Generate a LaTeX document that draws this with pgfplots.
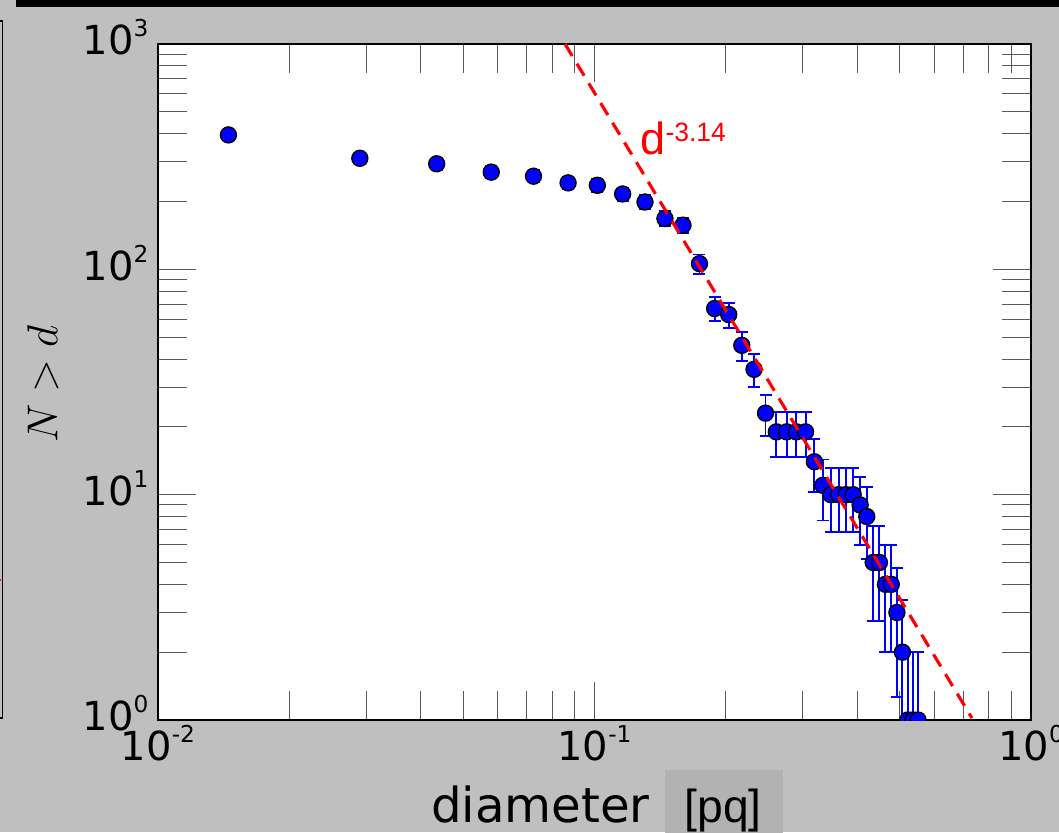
\documentclass[border=0pt]{standalone}
\usepackage{fontspec}
\setmainfont{DejaVu Sans}
\newfontfamily\libsans{Liberation Sans}
\usepackage{pgfplots}
\pgfplotsset{compat=1.18}
\usepackage{pgfplotstable}
\definecolor{bggray}{RGB}{191,191,191}
\definecolor{boxgray}{RGB}{178,178,178}
\newcommand\tl[1]{10\raisebox{7.1pt}{\fontsize{9.3}{9.3}\selectfont #1}}

\pgfplotstableread{
d N ep em
0.0145 395 19.87 19.87
0.0290 311 17.64 17.64
0.0435 294 17.15 17.15
0.0580 270 16.43 16.43
0.0725 259 16.09 16.09
0.0870 242 15.56 15.56
0.1015 236 15.36 15.36
0.1160 216 14.70 14.70
0.1305 199 14.11 14.11
0.1450 168 12.96 12.96
0.1595 157 12.53 12.53
0.1740 106 10.30 10.30
0.1885 67 8.19 8.19
0.2030 63 7.94 7.94
0.2175 46 6.78 6.78
0.2320 36 6.00 6.00
0.2465 23 4.80 4.80
0.2610 19 4.36 4.36
0.2755 19 4.36 4.36
0.2900 19 4.36 4.36
0.3045 19 4.36 4.36
0.3190 14 3.74 3.74
0.3335 11 3.32 3.32
0.3480 10 3.16 3.16
0.3625 10 3.16 3.16
0.3770 10 3.16 3.16
0.3915 10 3.16 3.16
0.4060 9 3.00 3.00
0.4205 8 2.83 2.83
0.4350 5 2.24 2.24
0.4495 5 2.24 2.24
0.4640 4 2.00 2.00
0.4785 4 2.00 2.00
0.4930 3 1.73 1.73
0.5075 2 1.41 1.41
0.5220 1 1.00 0.999
0.5365 1 1.00 0.999
0.5510 1 1.00 0.999
}\counts

\begin{document}
\begin{tikzpicture}
\fill[bggray] (-63.2pt,-44.8pt) rectangle (360.4pt,288pt);
\fill[black] (-56.8pt,285.2pt) rectangle (360.4pt,288pt);
\draw[black, line width=0.6pt] (-63.2pt,279.6pt) -- (-62.2pt,279.6pt) -- (-62.2pt,0.8pt) -- (-63.2pt,0.8pt);
\fill[red] (-63.2pt,55.6pt) rectangle (-62.6pt,56.6pt);
\fill[boxgray] (202.8pt,-20pt) rectangle (250pt,-50pt);
\begin{axis}[
  at={(0pt,0pt)}, anchor=south west,
  scale only axis, width=349.2pt, height=270.4pt,
  xmode=log, ymode=log, xmin=0.01, xmax=1, ymin=1, ymax=1000,
  axis background/.style={fill=white},
  axis line style={black, line width=0.6pt},
  tick align=inside,
  major tick length=15.2pt, minor tick length=11.6pt,
  tick style={black!65, line width=0.4pt},
  xtick={0.01,0.1,1}, xticklabels={\tl{-2},\tl{-1},\tl{0}},
  ytick={1,10,100,1000}, yticklabels={\tl{0},\tl{1},\tl{2},\tl{3}},
  ticklabel style={font=\fontsize{16}{16}\selectfont, inner sep=0pt},
  xticklabel style={yshift=-2pt},
  yticklabel style={xshift=-3.6pt, yshift=2.6pt},
  clip marker paths=true,
]
% error bars first (drawn under the markers)
\addplot[draw=none, mark=none,
  error bars/.cd, y dir=both, y explicit,
  error bar style={draw=blue, line width=0.75pt},
  error mark=-,
  error mark options={rotate=90, draw=blue, line width=0.75pt, mark size=2.4pt}]
  table[x=d, y=N, y error plus=ep, y error minus=em] {\counts};
% markers
\addplot[only marks, mark=*, mark size=3.2pt,
  mark options={fill=blue, draw=black, line width=0.55pt}]
  table[x=d, y=N] {\counts};
% fit line
\addplot[red, dash pattern=on 5.6pt off 3.6pt, line width=1.25pt]
  coordinates {(0.0856,1000) (0.7325,1.02)};
\end{axis}
\node[rotate=90, font=\fontsize{18.5}{18.5}\selectfont] at (-46pt,134.4pt) {$N>d$};
\node[anchor=base west, inner sep=0pt, font=\fontsize{19.3}{19.3}\selectfont] at (109pt,-40.8pt) {diameter};
\node[anchor=base west, inner sep=0pt, font=\libsans\fontsize{18.5}{18.5}\selectfont] at (210.4pt,-40.8pt) {[pq]};
\node[anchor=base west, inner sep=0pt, text=red, font=\libsans\fontsize{18}{18}\selectfont] at (192.8pt,226pt) {d\raisebox{5.3pt}{\fontsize{10.6}{10.6}\selectfont -3.14}};
\pgfresetboundingbox
\useasboundingbox (-63.2pt,-44.8pt) rectangle (360.4pt,288pt);
\end{tikzpicture}
\end{document}
